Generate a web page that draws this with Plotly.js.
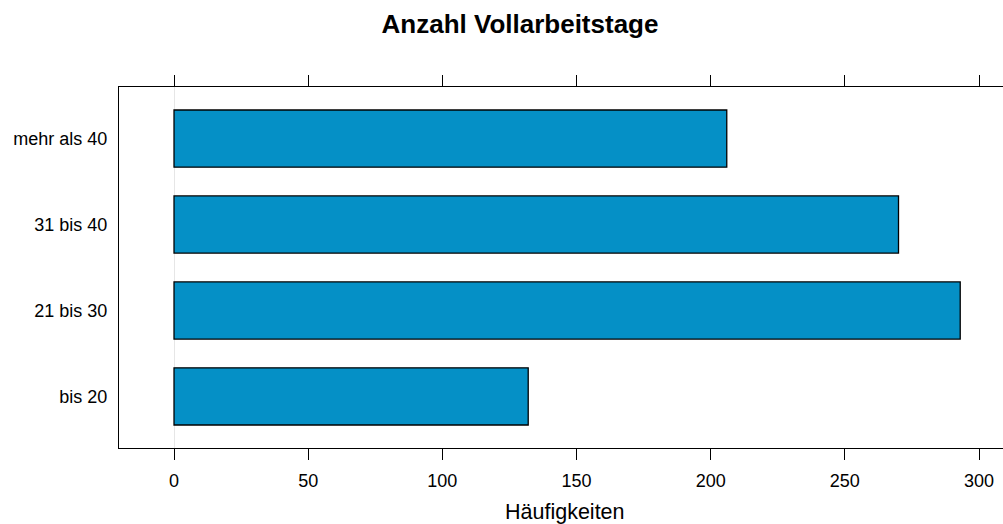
<!DOCTYPE html>
<html>
<head>
<meta charset="utf-8">
<script src="https://cdn.plot.ly/plotly-3.0.1.min.js"></script>
<style>html,body{margin:0;padding:0;background:#fff;}#chart{width:1003px;height:524px;}</style>
</head>
<body>
<div id="chart"></div>
<script>
const categories = ['bis 20', '21 bis 30', '31 bis 40', 'mehr als 40'];
const counts = [132, 293, 270, 206];
const tickValues = [0, 50, 100, 150, 200, 250, 300];
const chartTitle = 'Anzahl Vollarbeitstage';
const xLabel = 'Häufigkeiten';

const FONT = '"Liberation Sans", Arial, Helvetica, sans-serif';

const trace = {
  type: 'bar',
  orientation: 'h',
  x: counts,
  y: categories,
  width: 0.665,
  marker: { color: '#0590c6', line: { color: '#000000', width: 1.3 } },
  hoverinfo: 'x+y'
};

const layout = {
  width: 1003,
  height: 524,
  margin: { l: 119, r: 0, t: 87, b: 76 },
  paper_bgcolor: '#ffffff',
  plot_bgcolor: '#ffffff',
  font: { family: FONT, color: '#000000', size: 18 },
  showlegend: false,
  bargap: 0,
  title: {
    text: '<b>' + chartTitle + '</b>',
    font: { family: FONT, size: 26, color: '#000000' },
    x: 520 / 1003, xanchor: 'center', xref: 'container',
    y: 1 - 24 / 524, yanchor: 'middle', yref: 'container'
  },
  xaxis: {
    range: [-20.5, -20.5 + 884 / 2.68333],
    tickvals: tickValues,
    ticktext: tickValues.map(String),
    ticks: 'outside',
    ticklen: 11,
    tickwidth: 1,
    tickcolor: '#000000',
    showline: true,
    linecolor: '#000000',
    linewidth: 1.2,
    mirror: 'ticks',
    showgrid: false,
    zeroline: true,
    zerolinecolor: '#e6e6e6',
    zerolinewidth: 1,
    ticklabelstandoff: 5,
    tickfont: { family: FONT, size: 18, color: '#000000' },
    fixedrange: true
  },
  yaxis: {
    type: 'category',
    categoryorder: 'array',
    categoryarray: categories,
    range: [-0.6, 3.6],
    ticks: '',
    showline: true,
    linecolor: '#000000',
    linewidth: 1.2,
    mirror: false,
    showgrid: false,
    zeroline: false,
    ticklabelstandoff: 7,
    tickfont: { family: FONT, size: 18, color: '#000000' },
    fixedrange: true
  },
  annotations: [{
    text: xLabel,
    xref: 'paper', yref: 'paper',
    x: (565 - 119) / 884, y: -(512 - 448) / 361,
    xanchor: 'center', yanchor: 'middle',
    showarrow: false,
    font: { family: FONT, size: 21.5, color: '#000000' }
  }]
};

Plotly.newPlot('chart', [trace], layout, { displayModeBar: false, staticPlot: true });
</script>
</body>
</html>
